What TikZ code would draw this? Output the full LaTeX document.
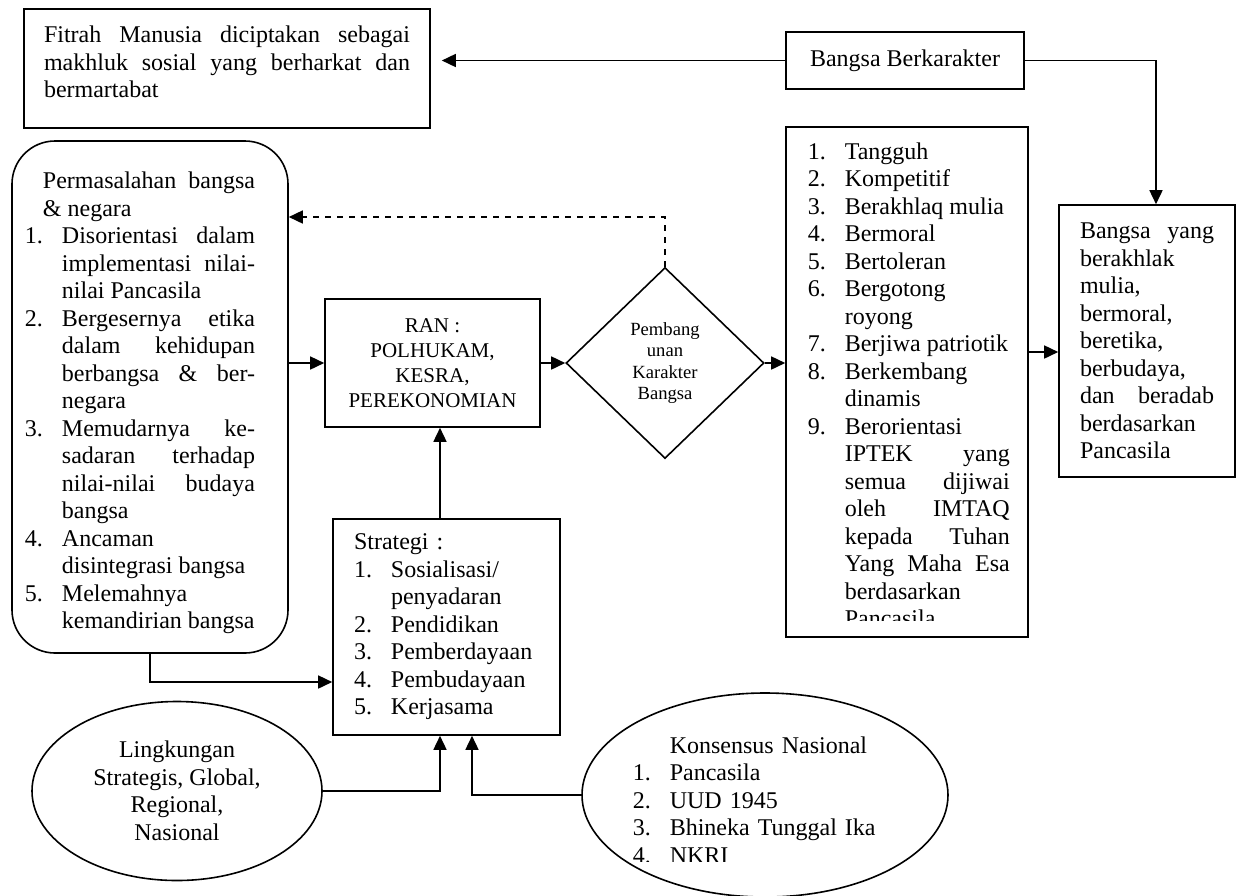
\documentclass[tikz,border=0pt]{standalone}
\usepackage{fontspec}
\setmainfont{Liberation Serif}
\usetikzlibrary{shapes.geometric,arrows.meta}

\tolerance=10000
\hbadness=10000
\newcommand{\itm}[2]{\hangindent=18.5pt\hangafter=1\noindent\makebox[18.5pt][l]{#1}#2\par}

\begin{document}
\begin{tikzpicture}[
	x=0.5pt, y=-0.5pt,
	line width=0.8pt,
	txt/.style={font=\fontsize{12}{13.75}\selectfont},
	box/.style={draw, rectangle, inner sep=0pt, txt},
	oval/.style={draw, ellipse, inner sep=0pt, txt},
	arr/.style={-{Triangle[length=7pt,width=6.5pt]}}
]
	\useasboundingbox (0,0) rectangle (1236,895);

	\node[box, minimum width=203pt, minimum height=59.5pt, text width=183pt, align=justify, text depth=34pt] (fitrah) at (227,68.5) {%
		Fitrah Manusia diciptakan sebagai\linebreak makhluk sosial yang berharkat dan\linebreak bermartabat};
	\node[box, minimum width=119pt, minimum height=28.5pt] (bb) at (905,60.5) {Bangsa Berkarakter};

	\node[box, rounded corners=21.5pt, minimum width=138pt, minimum height=256pt, text width=125pt, align=justify, text depth=216.5pt] (perm) at (150,397) {%
		\rightskip=10pt
		\hangindent=9pt\hangafter=0\noindent Permasalahan bangsa\linebreak \& negara\par
		\itm{1.}{Disorientasi dalam\linebreak implementasi nilai-\linebreak nilai Pancasila}
		\itm{2.}{Bergesernya etika\linebreak dalam kehidupan\linebreak berbangsa \& ber-\linebreak negara}
		\itm{3.}{Memudarnya ke-\linebreak sadaran terhadap\linebreak nilai-nilai budaya\linebreak bangsa}
		\itm{4.}{Ancaman\newline disintegrasi bangsa}
		\itm{5.}{Melemahnya\newline kemandirian bangsa}};

	\node[box, minimum width=107.5pt, minimum height=64pt, align=center, font=\fontsize{10.5}{12.5}\selectfont] (ran) at (432.5,363) {RAN :\\POLHUKAM,\\KESRA,\\PEREKONOMIAN};
	\node[draw, diamond, inner sep=0pt, minimum width=99pt, minimum height=95.5pt, align=center, font=\fontsize{9.3}{10.8}\selectfont] (dia) at (665,363) {Pembang\\unan\\Karakter\\Bangsa};

	\node[box, minimum width=121pt, minimum height=255pt] (lst) at (907,382) {};
	\begin{scope}
		\clip (786,127) rectangle (1028,620);
		\node[txt, inner sep=0pt, text width=101pt, align=justify, anchor=base west] (lsttxt) at (807,159) {%
			\itm{1.}{Tangguh}
			\itm{2.}{Kompetitif}
			\itm{3.}{Berakhlaq mulia}
			\itm{4.}{Bermoral}
			\itm{5.}{Bertoleran}
			\itm{6.}{Bergotong\newline royong}
			\itm{7.}{Berjiwa patriotik}
			\itm{8.}{Berkembang\newline dinamis}
			\itm{9.}{Berorientasi\newline IPTEK yang\linebreak semua dijiwai\linebreak oleh IMTAQ\linebreak kepada Tuhan\linebreak Yang Maha Esa\linebreak berdasarkan\newline Pancasila}};
	\end{scope}

	\node[box, minimum width=88pt, minimum height=136pt, text width=67pt, align=justify] (bya) at (1147,341) {%
		Bangsa yang\linebreak berakhlak\newline mulia,\newline bermoral,\newline beretika,\newline berbudaya,\newline dan beradab\linebreak berdasarkan\newline Pancasila};

	\node[box, minimum width=113.5pt, minimum height=108pt, text width=92.5pt, align=left] (strat) at (446.5,627) {%
		Strategi :\par
		\itm{1.}{Sosialisasi/\newline penyadaran}
		\itm{2.}{Pendidikan}
		\itm{3.}{Pemberdayaan}
		\itm{4.}{Pembudayaan}
		\itm{5.}{Kerjasama}};

	\node[oval, minimum width=145pt, minimum height=89.5pt, align=center] (ling) at (177,791) {Lingkungan\\Strategis, Global,\\Regional,\\Nasional};

	\node[oval, minimum width=183pt, minimum height=102pt] (kons) at (765,795) {};
	\begin{scope}
		\clip (582,693) rectangle (948,861);
		\node[txt, inner sep=0pt, text width=125pt, align=left, anchor=base west] (konstxt) at (632,753) {%
			\hangindent=18.5pt\hangafter=0\noindent Konsensus Nasional\par
			\itm{1.}{Pancasila}
			\itm{2.}{UUD 1945}
			\itm{3.}{Bhineka Tunggal Ika}
			\itm{4.}{NKRI}};
	\end{scope}

	\coordinate (fitin) at ([xshift=5.5pt]fitrah.east);
	\coordinate (lstout) at ([yshift=15pt]lst.east);
	\coordinate (stratin) at ([xshift=-3.25pt]strat.north);

	\draw[arr] (bb.west) -- (fitin |- bb.west);
	\draw[arr] (bb.east) -| ([xshift=4.5pt]bya.north);
	\draw[arr] (perm.east |- ran.west) -- (ran.west);
	\draw[arr] (ran.east) -- (dia.west);
	\draw[arr] (dia.east) -- (dia.east -| lst.west);
	\draw[arr] (lstout) -- (lstout -| bya.west);
	\draw[arr, dashed] (dia.north) |- ([yshift=90pt]perm.east);
	\draw[arr] (stratin) -- (stratin |- ran.south);
	\draw[arr] (perm.south) |- ([yshift=-27.5pt]strat.west);
	\draw[arr] (ling.east) -| ([xshift=-3.25pt]strat.south);
	\draw[arr] (kons.west) -| ([xshift=12.75pt]strat.south);
\end{tikzpicture}
\end{document}
